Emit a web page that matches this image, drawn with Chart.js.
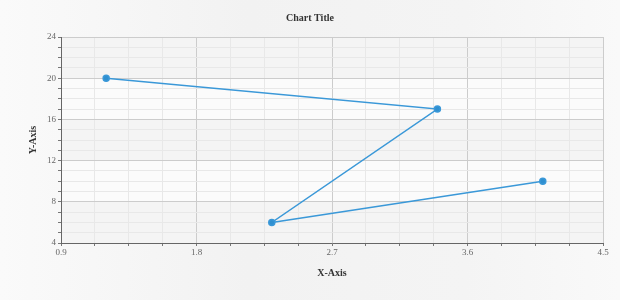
<!DOCTYPE html>
<html>
<head>
<meta charset="utf-8">
<script src="https://cdn.jsdelivr.net/npm/chart.js@4"></script>
<style>
  html, body { margin: 0; padding: 0; }
  body {
    width: 620px; height: 300px; overflow: hidden;
    background: linear-gradient(to right, #fafafa, #f2f2f2 40%, #f4f4f4 75%, #f9f9f9);
  }
  #wrap { width: 620px; height: 300px; }
</style>
</head>
<body>
<div id="wrap"><canvas id="grafico" width="620" height="300"></canvas></div>
<script>
const xValues = [1.2, 3.4, 2.3, 4.1];
const yValues = [20, 17, 6, 10];
const xTicks = [0.9, 1.8, 2.7, 3.6, 4.5];
const yTicks = [4, 8, 12, 16, 20, 24];

const serif = "'Liberation Serif', 'DejaVu Serif', serif";

// split each major step into 4 minor steps
function withMinor(major) {
  const out = [];
  for (let i = 0; i < major.length; i++) {
    out.push({ value: major[i], major: true });
    if (i < major.length - 1) {
      const step = (major[i + 1] - major[i]) / 4;
      for (let k = 1; k < 4; k++) out.push({ value: major[i] + step * k, major: false });
    }
  }
  return out;
}

const bandas = {
  id: 'bandas',
  beforeDraw(chart) {
    const { ctx, chartArea, scales } = chart;
    ctx.save();
    ctx.fillStyle = '#fbfbfb';
    ctx.fillRect(chartArea.left, chartArea.top, chartArea.width, chartArea.height);
    ctx.fillStyle = '#f4f4f4';
    for (let i = 0; i < yTicks.length - 1; i += 2) {
      const y1 = scales.y.getPixelForValue(yTicks[i]);
      const y2 = scales.y.getPixelForValue(yTicks[i + 1]);
      ctx.fillRect(chartArea.left, y2, chartArea.width, y1 - y2);
    }
    ctx.fillRect(chartArea.left, scales.y.getPixelForValue(24), chartArea.width,
      scales.y.getPixelForValue(20) - scales.y.getPixelForValue(24));
    ctx.restore();
  }
};

const pontos = xValues.map((x, i) => ({ x: x, y: yValues[i] }));

new Chart(document.getElementById('grafico').getContext('2d'), {
  type: 'scatter',
  data: {
    datasets: [{
      data: pontos,
      showLine: true,
      borderColor: '#3a98d8',
      backgroundColor: '#2f8fd0',
      borderWidth: 1.5,
      pointRadius: 3,
      pointHoverRadius: 3,
      tension: 0
    }]
  },
  options: {
    responsive: false,
    animation: false,
    layout: { padding: 0 },
    plugins: {
      legend: { display: false },
      tooltip: { enabled: false },
      title: {
        display: true,
        text: 'Chart Title',
        color: '#333',
        font: { family: serif, size: 10, weight: 'bold' },
        padding: { top: 12, bottom: 13 }
      }
    },
    scales: {
      x: {
        type: 'linear',
        min: 0.9,
        max: 4.5,
        afterBuildTicks(scale) { scale.ticks = withMinor(xTicks); },
        afterFit(scale) { scale.height = 57; },
        border: { color: '#666', width: 1 },
        grid: {
          color: c => (c.tick && c.tick.major ? '#cccccc' : '#e8e8e8'),
          tickColor: '#777',
          tickLength: 3
        },
        ticks: {
          autoSkip: false,
          maxRotation: 0,
          color: '#666',
          padding: 1,
          font: { family: serif, size: 9 },
          callback(v, i, ticks) { return ticks[i].major ? String(v) : ''; }
        },
        title: {
          display: true,
          text: 'X-Axis',
          color: '#333',
          font: { family: serif, size: 10, weight: 'bold' },
          padding: { top: 0, bottom: 21 }
        }
      },
      y: {
        type: 'linear',
        min: 4,
        max: 24,
        afterBuildTicks(scale) { scale.ticks = withMinor(yTicks); },
        afterFit(scale) { scale.width = 61; },
        border: { color: '#666', width: 1 },
        grid: {
          color: c => (c.tick && c.tick.major ? '#cccccc' : '#e8e8e8'),
          tickColor: '#777',
          tickLength: 3
        },
        ticks: {
          autoSkip: false,
          color: '#666',
          padding: 2,
          font: { family: serif, size: 9 },
          callback(v, i, ticks) { return ticks[i].major ? String(v) : ''; }
        },
        title: {
          display: true,
          text: 'Y-Axis',
          color: '#333',
          font: { family: serif, size: 10, weight: 'bold' },
          padding: { top: 27, bottom: 0 }
        }
      },
      // empty right margin so the title stays centred on the page
      margem: {
        type: 'linear',
        position: 'right',
        min: 4,
        max: 24,
        afterFit(scale) { scale.width = 17; },
        border: { display: false },
        grid: { display: false },
        ticks: { display: false }
      }
    }
  },
  plugins: [bandas]
});
</script>
</body>
</html>
